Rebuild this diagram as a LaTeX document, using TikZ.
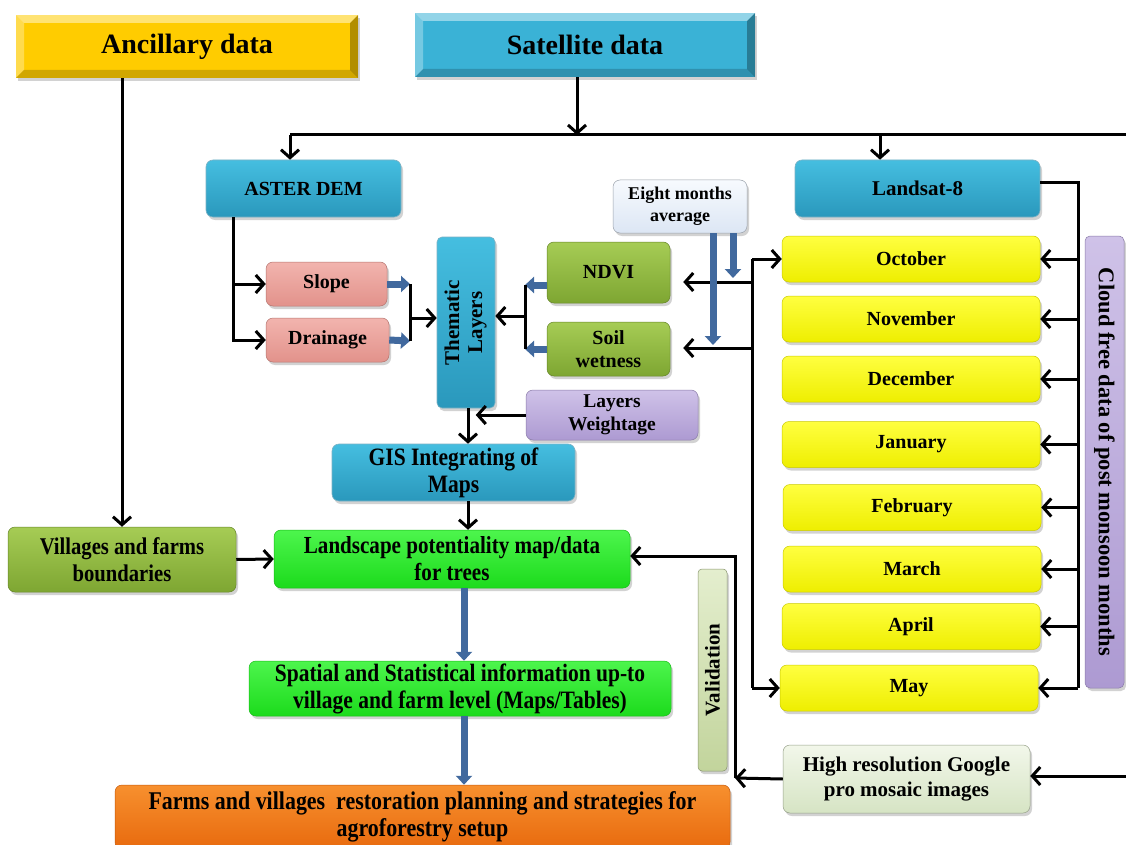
\documentclass[tikz,border=0pt]{standalone}
\usepackage{fontspec}
\setmainfont{Liberation Serif}
\newfontfamily\condfont[FakeStretch=0.86]{Liberation Serif}
\usepackage{graphicx}
\usetikzlibrary{arrows.meta,shadows}
\definecolor{tealT}{HTML}{45BEE0}
\definecolor{tealB}{HTML}{2A98BC}
\definecolor{tealD}{HTML}{247F9C}
\definecolor{ancY}{HTML}{FFCC00}
\definecolor{satC}{HTML}{3AB2D6}
\definecolor{pinkT}{HTML}{F2B4AE}
\definecolor{pinkB}{HTML}{E2928B}
\definecolor{oliveT}{HTML}{A6CC55}
\definecolor{oliveB}{HTML}{7EA632}
\definecolor{purT}{HTML}{CFC2E8}
\definecolor{purB}{HTML}{AD9AD2}
\definecolor{monT}{HTML}{FFFF40}
\definecolor{monB}{HTML}{EEEE00}
\definecolor{grnT}{HTML}{4DF54D}
\definecolor{grnB}{HTML}{1CDB1C}
\definecolor{orT}{HTML}{F7902E}
\definecolor{orB}{HTML}{E86A0E}
\definecolor{eightT}{HTML}{F7FAFE}
\definecolor{eightB}{HTML}{DCE6F4}
\definecolor{hrT}{HTML}{F2F7EA}
\definecolor{hrB}{HTML}{D6E4C4}
\definecolor{valT}{HTML}{E4EECE}
\definecolor{valB}{HTML}{C2D49C}
\definecolor{barrowc}{HTML}{41699E}
\tikzset{
  sz/.style 2 args={minimum width=#1pt, minimum height=#2pt},
  box/.style={rounded corners=7pt, inner sep=2pt, align=center,
    font=\bfseries\fontsize{20}{23}\selectfont,
    drop shadow={opacity=0.35, shadow xshift=2pt, shadow yshift=-3pt}},
  shade2/.style 2 args={top color=#1, bottom color=#2},
  tealbox/.style={box, shade2={tealT}{tealB}, draw=tealD!60, line width=0.6pt},
  pinkbox/.style={box, shade2={pinkT}{pinkB}, draw=pinkB!80!black, line width=0.5pt},
  olivebox/.style={box, shade2={oliveT}{oliveB}, draw=oliveB!80!black, line width=0.5pt},
  purbox/.style={box, shade2={purT}{purB}, draw=purB!80!black, line width=0.5pt},
  monbox/.style={box, shade2={monT}{monB}, draw=monB!85!black, line width=0.5pt},
  grnbox/.style={box, shade2={grnT}{grnB}, draw=grnB!85!black, line width=0.5pt},
  orbox/.style={box, shade2={orT}{orB}, draw=orB!85!black, line width=0.5pt},
  eightbox/.style={box, shade2={eightT}{eightB}, draw=eightB!70!black, line width=0.5pt},
  hrbox/.style={box, shade2={hrT}{hrB}, draw=hrB!70!black, line width=0.5pt},
  valbox/.style={box, rounded corners=4pt, shade2={valT}{valB}, draw=valB!70!black, line width=0.5pt},
  bevelbox/.style={inner sep=2pt, align=center, fill=#1,
    font=\bfseries\fontsize{28}{32}\selectfont,
    drop shadow={opacity=0.35, shadow xshift=2pt, shadow yshift=-3pt},
    path picture={
      \path (path picture bounding box.north west) coordinate (bNW)
            (path picture bounding box.north east) coordinate (bNE)
            (path picture bounding box.south west) coordinate (bSW)
            (path picture bounding box.south east) coordinate (bSE);
      \fill[white,opacity=0.45] (bNW) -- (bNE) -- ([shift={(-8pt,-8pt)}]bNE) -- ([shift={(8pt,-8pt)}]bNW) -- cycle;
      \fill[white,opacity=0.3] (bNW) -- ([shift={(8pt,-8pt)}]bNW) -- ([shift={(8pt,8pt)}]bSW) -- (bSW) -- cycle;
      \fill[black,opacity=0.3] (bNE) -- (bSE) -- ([shift={(-8pt,8pt)}]bSE) -- ([shift={(-8pt,-8pt)}]bNE) -- cycle;
      \fill[black,opacity=0.18] (bSW) -- (bSE) -- ([shift={(-8pt,8pt)}]bSE) -- ([shift={(8pt,8pt)}]bSW) -- cycle;
    }},
  conn/.style={line width=3pt, black},
  arr/.style={conn, -{Straight Barb[length=8pt,width=18pt,line width=3pt]}},
  barrow/.style={line width=7pt, barrowc, -{Triangle[length=9pt,width=16pt]}},
  cond/.style={font=\condfont\bfseries\fontsize{#1}{27}\selectfont}
}
\begin{document}
\begin{tikzpicture}[x=1pt,y=-1pt]
\useasboundingbox (0,0) rectangle (1126,845);
\fill[white] (0,0) rectangle (1126,845);

% top boxes
\node[bevelbox=ancY, sz={342}{63}] (anc) at (187,46.5) {Ancillary data};
\node[bevelbox=satC, sz={340}{64}] (sat) at (585,45) {Satellite data};

% satellite products
\node[tealbox, sz={195}{57}] (aster) at (303.5,188.5) {ASTER DEM};
\node[tealbox, sz={245}{57}, font=\bfseries\fontsize{21}{24}\selectfont] (landsat) at (917.5,188.5) {Landsat-8};
\node[eightbox, sz={134}{53}, font=\bfseries\fontsize{18}{22}\selectfont] (eight) at (680,206.5) {Eight months\\average};

\node[pinkbox, sz={121}{44}] (slope) at (326.5,284) {Slope};
\node[pinkbox, sz={123}{44}] (drain) at (327.5,340) {Drainage};
\node[tealbox, sz={58}{171}, rounded corners=5pt] (them) at (466,322.5)
  {\rotatebox{90}{\begin{tabular}{@{}c@{}}\fontsize{21}{22}\selectfont Thematic\\\fontsize{21}{22}\selectfont Layers\end{tabular}}};
\node[olivebox, sz={123}{61}] (ndvi) at (608.5,272.5) {NDVI};
\node[olivebox, sz={123}{54}] (soil) at (608.5,349) {Soil\\wetness};
\node[purbox, sz={172}{50}, font=\bfseries\fontsize{19.5}{23}\selectfont] (weight) at (612,415) {Layers\\Weightage};
\node[tealbox, sz={243}{57}, cond=25] (gis) at (453.5,472.5) {GIS Integrating of\\Maps};
\node[grnbox, sz={356}{58}, cond=24.5] (land) at (452,559) {Landscape potentiality map/data\\for trees};
\node[olivebox, sz={228}{65}, cond=24] (vill) at (122,559.5) {Villages and farms\\boundaries};
\node[grnbox, sz={422}{55}, cond=25] (spat) at (460,688.5) {Spatial and Statistical information up-to\\village and farm level (Maps/Tables)};
\node[orbox, sz={615}{64}, cond=25.5] (farms) at (422.5,817) {Farms and villages\ \ restoration planning and strategies for\\agroforestry setup};
\node[valbox, sz={29}{202}] (valid) at (712.5,670) {\rotatebox{90}{\fontsize{21}{24}\selectfont Validation}};
\node[hrbox, sz={247}{68}, font=\bfseries\fontsize{21}{25}\selectfont] (hr) at (906.5,779) {High resolution Google\\pro mosaic images};

% months
\foreach \n/\t/\cx/\cy in {oct/October/911/259, nov/November/911/319, dec/December/911/379,
  jan/January/911/444.5, feb/February/912/507.5, mar/March/912/569, apr/April/911/626.5, may/May/909/688}
  \node[monbox, sz={258}{46}] (\n) at (\cx,\cy) {\t};
\node[purbox, sz={39}{452}, rounded corners=5pt] (cloud) at (1104.5,462)
  {\rotatebox{-90}{\fontsize{22.5}{25}\selectfont Cloud free data of post monsoon months}};

% coordinates
\coordinate (bus) at (577,135);
\coordinate (busW) at (290,135);
\coordinate (busLs) at (880,135);
\coordinate (busE) at (1128,135);
\coordinate (hrE) at (1128,776);
\coordinate (ad) at (233,217);
\coordinate (sdj) at (410,318);
\coordinate (sdT) at (410,284);
\coordinate (sdB) at (410,341);
\coordinate (nsj) at (525,316);
\coordinate (nsT) at (525,285);
\coordinate (nsB) at (525,349);
\coordinate (vj) at (735,778);
\coordinate (lr) at (1078,183);
\coordinate (ll) at (752,282);
\coordinate (ls) at (752,348);
\coordinate (ax) at (122,0);
\coordinate (gx) at (468,0);
\coordinate (bx) at (464,0);
\coordinate (e1) at (733,0);
\coordinate (e2) at (713,0);
\coordinate (e1b) at (733,278);
\coordinate (e2b) at (713,345);

% connectors
\draw[arr] (ax |- anc.south) -- (ax |- vill.north);
\draw[arr] (bus |- sat.south) -- (bus);
\draw[conn] (busE) -- (busW);
\draw[arr] (busW) -- (busW |- aster.north);
\draw[arr] (busLs) -- (busLs |- landsat.north);
\draw[conn] (busE) -- (hrE);
\draw[arr] (hrE) -- (hrE -| hr.east);

\draw[arr] (ad) |- (slope.west);
\draw[arr] (ad) |- (drain.west);
\draw[barrow] (slope.east) -- (sdT);
\draw[barrow] (drain.east) -- (sdB);
\draw[conn] (sdT) -- (sdB);
\draw[arr] (sdj) -- (sdj -| them.west);

\draw[barrow] (nsT -| ndvi.west) -- (nsT);
\draw[barrow] (nsB -| soil.west) -- (nsB);
\draw[conn] (nsT) -- (nsB);
\draw[arr] (nsj) -- (nsj -| them.east);

\draw[arr] (weight.west) -- ++(-50,0);
\draw[arr] (gx |- them.south) -- (gx |- gis.north);
\draw[arr] (gx |- gis.south) -- (gx |- land.north);
\draw[arr] (vill.east) -- (land.west);
\draw[barrow] (bx |- land.south) -- (bx |- spat.north);
\draw[barrow] (bx |- spat.south) -- (bx |- farms.north);

\draw[arr] (hr.west) -- (vj);
\draw[arr] (vj) |- ([yshift=3pt]land.east);

\draw[conn] (landsat.east |- lr) -- (lr) -- (lr |- may.east);
\foreach \m in {oct,nov,dec,jan,feb,mar,apr,may}
  \draw[arr] (lr |- \m.east) -- (\m.east);

\draw[conn] (ll |- oct.west) -- (ll |- may.west);
\draw[arr] (ll |- oct.west) -- (oct.west);
\draw[arr] (ll |- may.west) -- (may.west);
\draw[arr, shorten >=13pt] (ll) -- (ll -| ndvi.east);
\draw[arr, shorten >=13pt] (ls) -- (ls -| soil.east);

\draw[barrow] (e1 |- eight.south) -- (e1b);
\draw[barrow] (e2 |- eight.south) -- (e2b);
\end{tikzpicture}
\end{document}
